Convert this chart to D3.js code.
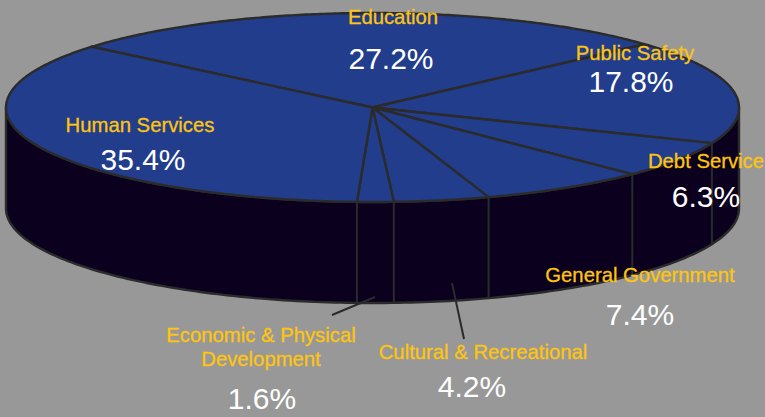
<!DOCTYPE html>
<html>
<head>
<meta charset="utf-8">
<script src="https://cdn.jsdelivr.net/npm/d3@7"></script>
<style>
  html, body { margin: 0; padding: 0; background: #989898; }
  text { font-family: "Liberation Sans", sans-serif; text-anchor: middle; }
</style>
</head>
<body>
<div id="chart"></div>
<script>
// values, clockwise starting from the Education slice
var categories = ["Education", "Public Safety", "Debt Service", "General Government",
    "Cultural & Recreational", "Economic & Physical Development", "Human Services"];
var shares = [27.2, 17.8, 6.3, 7.4, 4.2, 1.6, 35.4];

// label layout, same order as categories
var labelLines = [["Education"], ["Public Safety"], ["Debt Service"], ["General Government"],
    ["Cultural & Recreational"], ["Economic & Physical", "Development"], ["Human Services"]];
var labelX = [393, 635, 706, 640, 483, 261, 140];
var labelY = [[24], [60], [168], [282], [359], [342, 366], [132]];
var shareX = [391, 631, 706, 640, 472, 262, 143];
var shareY = [69, 92, 207, 325, 397, 409, 170];

var width = 765, height = 417;
var depth = 101;
var startDeg = -50;

var svg = d3.select("#chart").append("svg")
    .attr("width", width)
    .attr("height", height)
    .style("display", "block");

svg.append("rect")
    .attr("width", width)
    .attr("height", height)
    .attr("fill", "#989898");

// unit circle to pixels, the squash gives the tilted look
var x = d3.scaleLinear().domain([-1, 1]).range([6, 739]);
var y = d3.scaleLinear().domain([-1, 1]).range([13, 202]);

var slices = d3.pie().sort(null).startAngle(startDeg * Math.PI / 180)
    .endAngle((startDeg + 360) * Math.PI / 180)(shares);

function px(a) { return x(Math.sin(a)); }
function py(a) { return y(-Math.cos(a)); }

// front wall, right extreme round to left extreme
var wallAngles = d3.range(90, 270.5, 1).map(function(d) { return d * Math.PI / 180; });
var wall = d3.area()
    .x(function(a) { return px(a); })
    .y0(function(a) { return py(a); })
    .y1(function(a) { return py(a) + depth; });

svg.append("path")
    .datum(wallAngles)
    .attr("fill", "#0b001d")
    .attr("stroke", "#2b2b2b")
    .attr("stroke-width", 2.4)
    .attr("d", wall);

// wall dividers where a slice boundary is on the front
slices.forEach(function(s) {
    var a = s.endAngle;
    if (Math.cos(a) < 0) {
        svg.append("line")
            .attr("x1", px(a)).attr("y1", py(a))
            .attr("x2", px(a)).attr("y2", py(a) + depth)
            .attr("stroke", "#2b2b2b")
            .attr("stroke-width", 2);
    }
});

// top face
var outline = d3.line()
    .x(function(a) { return px(a); })
    .y(function(a) { return py(a); });

slices.forEach(function(s) {
    var rim = d3.range(s.startAngle, s.endAngle, 0.01).concat([s.endAngle]);
    svg.append("path")
        .attr("d", "M" + x(0) + "," + y(0) + "L" + outline(rim).slice(1) + "Z")
        .attr("fill", "#213d8c")
        .attr("stroke", "#2b2b2b")
        .attr("stroke-width", 2.4)
        .attr("stroke-linejoin", "round");
});

// leader lines for the two small slices
var leaders = [[375, 297, 332, 315], [452, 283, 464, 339]];
svg.selectAll(".leader").data(leaders).enter().append("line")
    .attr("class", "leader")
    .attr("x1", function(d) { return d[0]; })
    .attr("y1", function(d) { return d[1]; })
    .attr("x2", function(d) { return d[2]; })
    .attr("y2", function(d) { return d[3]; })
    .attr("stroke", "#2b2b2b")
    .attr("stroke-width", 2);

categories.forEach(function(c, i) {
    labelLines[i].forEach(function(line, j) {
        svg.append("text")
            .attr("x", labelX[i])
            .attr("y", labelY[i][j])
            .attr("fill", "#fdc511")
            .attr("stroke", "#fdc511")
            .attr("stroke-width", 0.3)
            .attr("font-size", 20.3)
            .text(line);
    });
    svg.append("text")
        .attr("x", shareX[i])
        .attr("y", shareY[i])
        .attr("fill", "#ffffff")
        .attr("font-size", 30)
        .text(shares[i].toFixed(1) + "%");
});
</script>
</body>
</html>
